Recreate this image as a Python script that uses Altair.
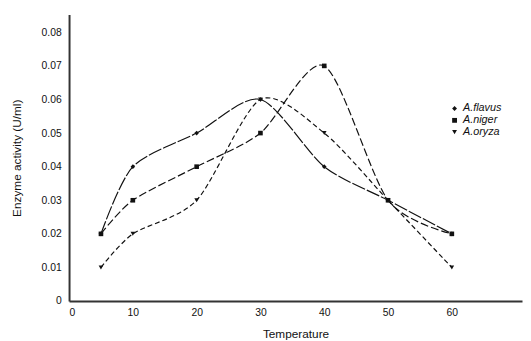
import altair as alt
import pandas as pd

temps = [5, 10, 20, 30, 40, 50, 60]
flavus = [0.02, 0.04, 0.05, 0.06, 0.04, 0.03, 0.02]
niger = [0.02, 0.03, 0.04, 0.05, 0.07, 0.03, 0.02]
oryza = [0.01, 0.02, 0.03, 0.06, 0.05, 0.03, 0.01]
series_names = ["A.flavus", "A.niger", "A.oryza"]
y_ticks = [0, 0.01, 0.02, 0.03, 0.04, 0.05, 0.06, 0.07, 0.08]
x_ticks = [0, 10, 20, 30, 40, 50, 60]
dashes = [[14, 2], [8, 3], [5, 3]]

rows = []
for name, vals in zip(series_names, [flavus, niger, oryza]):
    for t, v in zip(temps, vals):
        rows.append({"Temperature": t, "Activity": v, "Species": name})
df = pd.DataFrame(rows)

x = alt.X("Temperature:Q",
          scale=alt.Scale(domain=[0, 71], nice=False, zero=True),
          axis=alt.Axis(values=x_ticks, title="Temperature", format="d",
                        labelPadding=7, titlePadding=11))
y = alt.Y("Activity:Q",
          scale=alt.Scale(domain=[0, 0.0853], nice=False),
          axis=alt.Axis(values=y_ticks, title="Enzyme activity (U/ml)",
                        labelExpr="datum.value == 0 ? '0' : format(datum.value, '.2f')",
                        labelPadding=8, titlePadding=18))

base = alt.Chart(df)
line_layers = []
for name, dash in zip(series_names, dashes):
    line_layers.append(
        base.transform_filter(alt.datum.Species == name)
        .mark_line(interpolate="cardinal", tension=0.2, color="#111",
                   strokeWidth=1.2, strokeDash=dash)
        .encode(x=x, y=y)
    )

points = base.mark_point(filled=True, color="#111", opacity=1, size=22).encode(
    x=x, y=y,
    shape=alt.Shape("Species:N",
                    scale=alt.Scale(domain=series_names,
                                    range=["diamond", "square", "triangle-down"]),
                    legend=alt.Legend(orient="none", legendX=386, legendY=90, title=None,
                                      labelFontStyle="italic", labelFontSize=11,
                                      labelFont="Liberation Sans", labelColor="#111",
                                      symbolSize=24, symbolFillColor="#111",
                                      symbolStrokeColor="#111", symbolOpacity=1,
                                      rowPadding=0, labelOffset=3)),
)

chart = alt.layer(*line_layers, points).properties(
    width=460, height=291,
    autosize=alt.AutoSizeParams(type="none"),
    padding={"left": 62, "top": 4, "right": 1, "bottom": 39},
).configure_view(stroke=None).configure_axis(
    grid=False, ticks=False, domainColor="#333", domainWidth=2,
    labelFont="Liberation Sans", labelFontSize=10.5, labelColor="#111",
    titleFont="Liberation Sans", titleFontSize=12, titleFontWeight="normal",
    titleColor="#111",
)

chart.save("out.html", embed_options={"renderer": "svg", "actions": False})
